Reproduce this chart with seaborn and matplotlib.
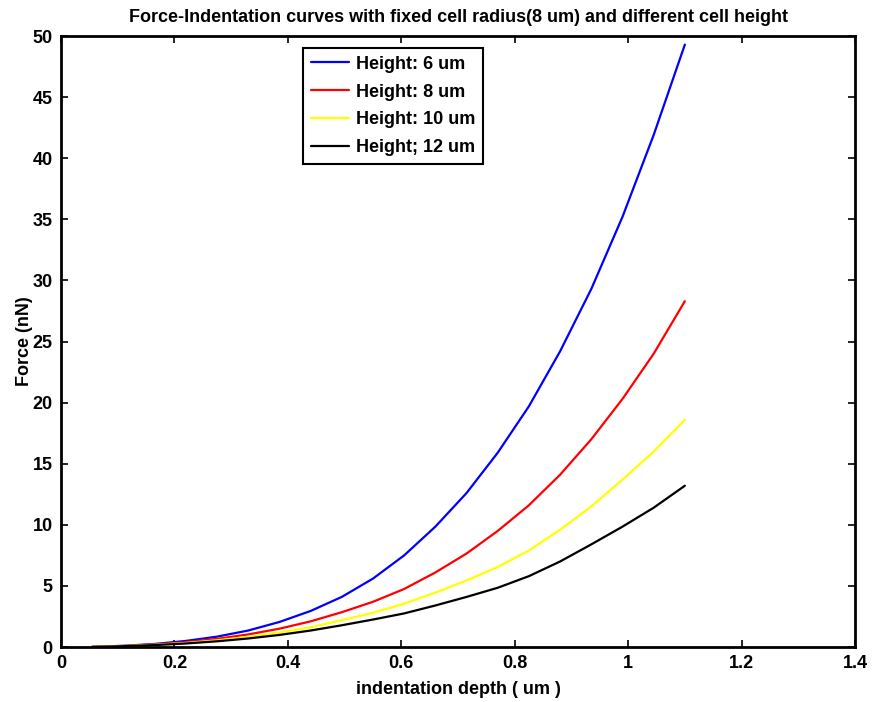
import matplotlib
matplotlib.use("Agg")
import matplotlib.pyplot as plt
import seaborn as sns
import pandas as pd
import numpy as np

depth = [0.055, 0.11, 0.165, 0.22, 0.275, 0.33, 0.385, 0.44, 0.495, 0.55,
         0.605, 0.66, 0.715, 0.77, 0.825, 0.88, 0.935, 0.99, 1.045, 1.1]
h6 = [0.02, 0.10, 0.25, 0.50, 0.85, 1.35, 2.05, 2.95, 4.10, 5.60,
      7.50, 9.85, 12.6, 15.9, 19.7, 24.2, 29.3, 35.2, 41.9, 49.3]
h8 = [0.02, 0.09, 0.21, 0.40, 0.67, 1.03, 1.50, 2.10, 2.85, 3.70,
      4.75, 6.10, 7.65, 9.50, 11.6, 14.1, 17.0, 20.3, 24.0, 28.3]
h10 = [0.02, 0.08, 0.18, 0.33, 0.55, 0.83, 1.18, 1.62, 2.20, 2.80,
       3.55, 4.45, 5.45, 6.55, 7.90, 9.60, 11.5, 13.7, 16.0, 18.6]
h12 = [0.01, 0.07, 0.16, 0.29, 0.47, 0.70, 0.99, 1.35, 1.78, 2.25,
       2.75, 3.40, 4.10, 4.85, 5.80, 7.00, 8.40, 9.85, 11.4, 13.2]
labels = ["Height: 6 um", "Height: 8 um", "Height: 10 um", "Height; 12 um"]
colors = ["#0000ff", "#ff0000", "#ffff00", "#000000"]
xticks = [0, 0.2, 0.4, 0.6, 0.8, 1, 1.2, 1.4]
xticklabels = ["0", "0.2", "0.4", "0.6", "0.8", "1", "1.2", "1.4"]
yticks = list(range(0, 51, 5))

frames = []
for lab, vals in zip(labels, [h6, h8, h10, h12]):
    frames.append(pd.DataFrame({"depth": depth, "force": vals, "series": lab}))
df = pd.concat(frames, ignore_index=True)

sns.set_style("ticks")
plt.rcParams["font.family"] = ["Liberation Sans Narrow", "Liberation Sans", "DejaVu Sans"]
plt.rcParams["font.weight"] = "bold"
for k in ["text.color", "axes.labelcolor", "xtick.color", "ytick.color"]:
    plt.rcParams[k] = "black"

fig = plt.figure(figsize=(8.72, 7.02), dpi=100)
ax = fig.add_axes([0.070, 0.0783, 0.9105, 0.8704])

sns.lineplot(data=df, x="depth", y="force", hue="series", hue_order=labels,
             palette=colors, linewidth=1.6, ax=ax, legend=True)

ax.set_xlim(0, 1.4)
ax.set_ylim(0, 50)
ax.set_xticks(xticks)
ax.set_xticklabels(xticklabels)
ax.set_yticks(yticks)
ax.tick_params(direction="in", length=5, width=1.2, top=True, right=True,
               labelsize=13, pad=6, colors="black")
for lab in ax.get_xticklabels() + ax.get_yticklabels():
    lab.set_fontweight("bold")
for s in ax.spines.values():
    s.set_linewidth(2.0)
    s.set_color("black")
    s.set_visible(True)

ax.set_xlabel("indentation depth ( um )", fontsize=13, fontweight="bold", labelpad=6,
              color="black")
ax.set_ylabel("Force (nN)", fontsize=13, fontweight="bold", labelpad=0, color="black")
ax.set_title("Force-Indentation curves with fixed cell radius(8 um) and different cell height",
             fontsize=13, fontweight="bold", pad=10, color="black")

leg = ax.legend(loc="upper left", bbox_to_anchor=(0.305, 0.981), frameon=True,
                fancybox=False, edgecolor="black", framealpha=1,
                prop={"weight": "bold", "size": 13}, handlelength=2.1,
                handletextpad=0.35, borderpad=0.45, labelspacing=0.6,
                borderaxespad=0)
leg.get_frame().set_linewidth(1.5)
for line in leg.get_lines():
    line.set_linewidth(1.6)
for t in leg.get_texts():
    t.set_color("black")

fig.savefig("out.png", dpi=100)
